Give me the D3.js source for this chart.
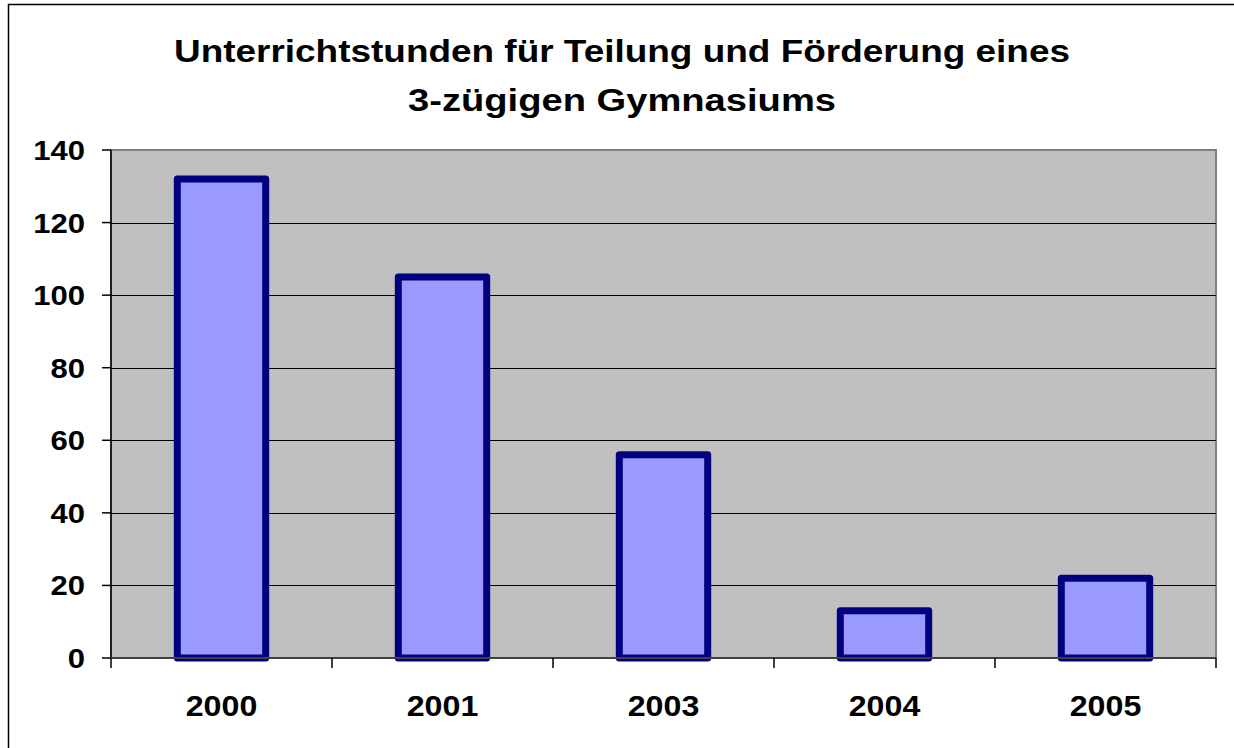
<!DOCTYPE html>
<html>
<head>
<meta charset="utf-8">
<script src="https://cdn.jsdelivr.net/npm/d3@7"></script>
<style>
  body { margin: 0; background: #fff; }
  svg text { font-family: Arial, "Liberation Sans", sans-serif; font-weight: bold; fill: #000; }
</style>
</head>
<body>
<svg id="chart"></svg>
<script>
// chart data
const years = ['2000', '2001', '2003', '2004', '2005'];
const hours = [132, 105, 56, 13, 22];
const yTicks = [0, 20, 40, 60, 80, 100, 120, 140];
const titleLines = ['Unterrichtstunden für Teilung und Förderung eines', '3-zügigen Gymnasiums'];

const width = 1234, height = 748;
const margin = { top: 150, right: 18, bottom: 90, left: 111 };
const innerWidth = width - margin.left - margin.right;
const innerHeight = height - margin.top - margin.bottom;

// the original text is a bit wider than Arial at this height
const stretch = 1.15;
const yLabelWidth = d => String(d).length * 0.556 * 27 * stretch;

const svg = d3.select('#chart')
  .attr('width', width)
  .attr('height', height);

// outer chart border
svg.append('rect')
  .attr('x', 8.5).attr('y', 4.5)
  .attr('width', 1240).attr('height', 760)
  .attr('fill', 'none')
  .attr('stroke', '#000')
  .attr('stroke-width', 1.5);

// title
svg.append('g').selectAll('text')
  .data(titleLines)
  .enter()
  .append('text')
  .attr('x', 622)
  .attr('y', (d, i) => 62 + i * 49)
  .attr('text-anchor', 'middle')
  .attr('textLength', (d, i) => i === 0 ? 896 : 428)
  .attr('lengthAdjust', 'spacingAndGlyphs')
  .style('font-size', '32px')
  .text(d => d);

const g = svg.append('g')
  .attr('transform', `translate(${margin.left},${margin.top})`);

const x = d3.scaleBand()
  .domain(years)
  .range([0, innerWidth])
  .paddingInner(0.6)
  .paddingOuter(0.3);

const y = d3.scaleLinear()
  .domain([0, 140])
  .range([innerHeight, 0]);

// plot background
g.append('rect')
  .attr('width', innerWidth)
  .attr('height', innerHeight)
  .attr('fill', '#c0c0c0')
  .attr('stroke', '#808080')
  .attr('stroke-width', 2);

// gridlines
g.append('g').selectAll('line')
  .data(yTicks.filter(t => t > 0 && t < 140))
  .enter()
  .append('line')
  .attr('x1', 0).attr('x2', innerWidth)
  .attr('y1', d => Math.round(y(d)) + 0.5)
  .attr('y2', d => Math.round(y(d)) + 0.5)
  .attr('stroke', '#000')
  .attr('stroke-width', 1);

// bars
g.append('g').selectAll('rect')
  .data(years)
  .enter()
  .append('rect')
  .attr('x', d => x(d))
  .attr('y', (d, i) => y(hours[i]))
  .attr('width', x.bandwidth())
  .attr('height', (d, i) => innerHeight - y(hours[i]))
  .attr('fill', '#9999ff')
  .attr('stroke', '#000080')
  .attr('stroke-width', 7)
  .attr('stroke-linejoin', 'round');

// y axis
const yAxis = g.append('g');
yAxis.append('line')
  .attr('y1', 0).attr('y2', innerHeight)
  .attr('stroke', '#000')
  .attr('stroke-width', 1.5);
yAxis.selectAll('.ytick')
  .data(yTicks)
  .enter()
  .append('line')
  .attr('class', 'ytick')
  .attr('x1', -9).attr('x2', 0)
  .attr('y1', d => y(d)).attr('y2', d => y(d))
  .attr('stroke', '#000')
  .attr('stroke-width', 1.5);
yAxis.selectAll('.ylabel')
  .data(yTicks)
  .enter()
  .append('text')
  .attr('class', 'ylabel')
  .attr('x', d => -26 - yLabelWidth(d))
  .attr('y', d => y(d) + 10)
  .attr('textLength', yLabelWidth)
  .attr('lengthAdjust', 'spacingAndGlyphs')
  .style('font-size', '27px')
  .text(d => d);

// x axis: ticks at category boundaries
const step = innerWidth / years.length;
const xAxis = g.append('g')
  .attr('transform', `translate(0,${innerHeight})`);
xAxis.append('line')
  .attr('x1', 0).attr('x2', innerWidth)
  .attr('stroke', '#404040')
  .attr('stroke-width', 2);
xAxis.selectAll('.btick')
  .data(d3.range(years.length + 1))
  .enter()
  .append('line')
  .attr('class', 'btick')
  .attr('x1', d => d * step).attr('x2', d => d * step)
  .attr('y1', 0).attr('y2', 10)
  .attr('stroke', '#000')
  .attr('stroke-width', 1.5);
xAxis.selectAll('.xlabel')
  .data(years)
  .enter()
  .append('text')
  .attr('class', 'xlabel')
  .attr('x', d => x(d) + x.bandwidth() / 2)
  .attr('y', 58)
  .attr('text-anchor', 'middle')
  .attr('textLength', 4 * 0.556 * 29 * 1.11)
  .attr('lengthAdjust', 'spacingAndGlyphs')
  .style('font-size', '29px')
  .text(d => d);
</script>
</body>
</html>
